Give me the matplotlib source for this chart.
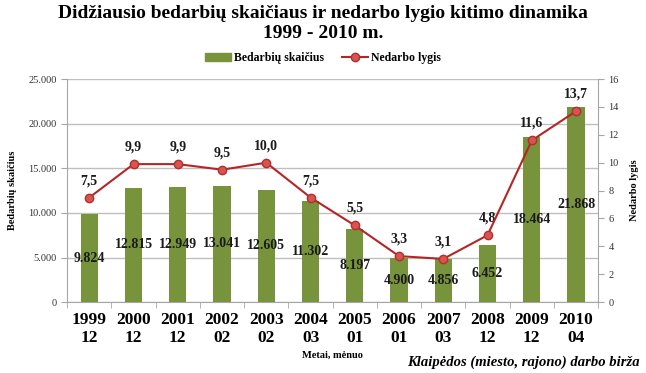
import numpy as np
import matplotlib
matplotlib.use("Agg")
import matplotlib.pyplot as plt
from matplotlib.ticker import FuncFormatter
from matplotlib.lines import Line2D
from matplotlib.patches import Patch

periods = ["1999\n12", "2000\n12", "2001\n12", "2002\n02", "2003\n02", "2004\n03",
           "2005\n01", "2006\n01", "2007\n03", "2008\n12", "2009\n12", "2010\n04"]
unemployed = [9824, 12815, 12949, 13041, 12605, 11302, 8197, 4900, 4856, 6452, 18464, 21868]
rate = [7.5, 9.9, 9.9, 9.5, 10.0, 7.5, 5.5, 3.3, 3.1, 4.8, 11.6, 13.7]

green = "#77933C"
red_line = "#B52525"
red_marker = "#D9534F"
serif = "Liberation Serif"

plt.rcParams["font.family"] = serif

fig = plt.figure(figsize=(6.46, 3.73), dpi=100)
ax = fig.add_axes([0.104, 0.190, 0.822, 0.598])
ax2 = ax.twinx()

x = np.arange(len(periods))
ax.bar(x, unemployed, width=0.39, color=green, zorder=2)
ax.set_xlim(-0.5, len(periods) - 0.5)
ax.set_ylim(0, 25000)
ax.set_yticks(range(0, 25001, 5000))
ax.yaxis.set_major_formatter(FuncFormatter(lambda v, p: f"{int(v):,}".replace(",", ".")))
ax.grid(axis="y", color="#BFBFBF", linewidth=1, zorder=0)
ax.set_axisbelow(True)

for xi, v in zip(x, unemployed):
    ax.text(xi, v / 2, f"{v:,}".replace(",", "."), ha="center", va="center",
            fontsize=10, fontweight="bold", color="#1a1a1a", zorder=5)

ax2.plot(x, rate, color=red_line, linewidth=1.5, marker="o", markersize=6,
         markerfacecolor=red_marker, markeredgecolor="#B03030", zorder=4)
ax2.set_ylim(0, 16)
ax2.set_yticks(range(0, 17, 2))
for xi, v in zip(x, rate):
    ax2.text(xi, v + 0.75, f"{v:.1f}".replace(".", ","), ha="center", va="bottom",
             fontsize=10, fontweight="bold", color="#1a1a1a")

ax.set_xticks(x)
ax.set_xticklabels(periods, fontsize=12.5, fontweight="bold", linespacing=1.15)
ax.set_xticks(np.arange(-0.5, len(periods)), minor=True)
ax.tick_params(axis="x", which="major", length=0, pad=7)
ax.tick_params(axis="x", which="minor", length=4, color="#A6A6A6")
ax.tick_params(axis="y", labelsize=7.5, length=4, color="#A6A6A6", labelcolor="#333333")
ax2.tick_params(axis="y", labelsize=7.5, length=4, color="#A6A6A6", labelcolor="#333333")

for a in (ax, ax2):
    for s in a.spines.values():
        s.set_visible(False)
ax.spines["left"].set_visible(True)
ax.spines["left"].set_color("#A6A6A6")
ax.spines["bottom"].set_visible(True)
ax.spines["bottom"].set_color("#A6A6A6")
ax2.spines["right"].set_visible(True)
ax2.spines["right"].set_color("#A6A6A6")

ax.set_ylabel("Bedarbių skaičius", fontsize=7.5, fontweight="bold", labelpad=8)
ax2.set_ylabel("Nedarbo lygis", fontsize=7.5, fontweight="bold", labelpad=8)
ax.set_xlabel("Metai, mėnuo", fontsize=7.5, fontweight="bold", labelpad=4)

fig.text(0.5, 0.987, "Didžiausio bedarbių skaičiaus ir nedarbo lygio kitimo dinamika\n1999 - 2010 m.",
         ha="center", va="top", fontsize=14, fontweight="bold", linespacing=1.25)

handles = [Patch(color=green, label="Bedarbių skaičius"),
           Line2D([], [], color=red_line, linewidth=1.5, marker="o", markersize=6,
                  markerfacecolor=red_marker, markeredgecolor="#B03030", label="Nedarbo lygis")]
fig.legend(handles=handles, loc="center", bbox_to_anchor=(0.5, 0.845), ncol=2, frameon=False,
           prop={"family": serif, "weight": "bold", "size": 8.5}, handlelength=2.2,
           handletextpad=0.3, columnspacing=1.5)

fig.text(0.99, 0.028, "Klaipėdos (miesto, rajono) darbo birža", ha="right", va="center",
         fontsize=10.5, fontweight="bold", style="italic")

fig.savefig("out.png", dpi=100)
